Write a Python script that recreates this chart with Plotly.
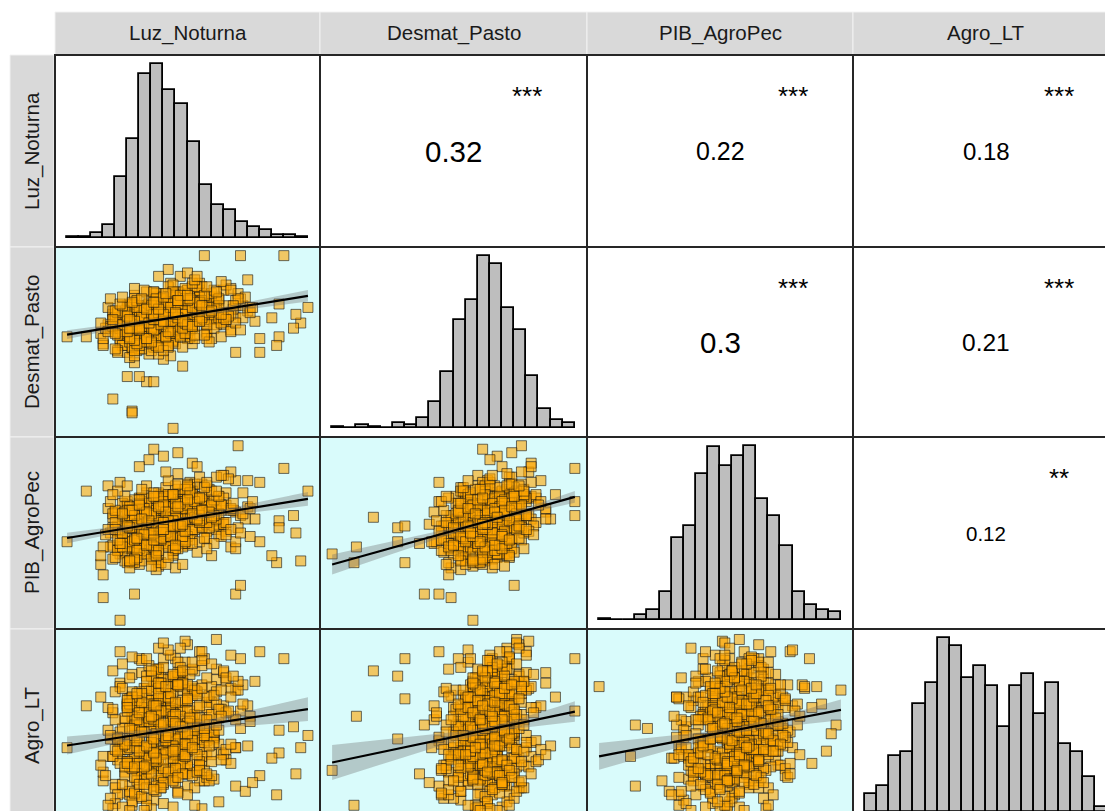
import numpy as np
import plotly.graph_objects as go

W, H = 1105, 811

variables = ["Luz_Noturna", "Desmat_Pasto", "PIB_AgroPec", "Agro_LT"]

# ---- observations (values in each variable's plotted scale, 0-100) ----
luz_noturna = [
    26,38,20,31,45,23,34,28,41,22, 30,49,25,36,19,33,42,24,29,39, 32,21,46,27,35,24,30,38,52,20,
    33,26,43,28,22,37,31,40,18,29, 47,25,35,23,28,41,32,21,37,27, 34,44,24,30,36,19,50,28,35,26,
    39,22,31,27,43,
    36,30,45,26,40,51,33,28,43,38, 24,48,35,42,29,56,36,27,46,33, 39,23,50,37,31,44,34,26,53,41,
    32,47,28,38,58,35,25,45,40,30, 42,34,49,27,37,46,31,54,36,29, 44,39,22,48,33,37,28,52,41,35,
    31,47,38,25,43,34,62,40,32,45, 36,27,50,39,33,42,30,47,37,26, 48,35,41,31,39,
    42,50,35,53,44,31,58,41,37,48, 46,38,61,33,43,54,40,29,56,47, 36,49,42,65,34,45,39,52,44,27,
    55,40,48,32,59,43,35,50,41,70, 38,53,46,30,57,42,49,34,63,39, 51,44,36,55,40,28,60,45,37,52,
    41,33,48,57,43,25,50,39,66,46, 35,53,42,47,31,58,44,38,51,45, 40,56,43,34,49,
    47,58,41,53,66,44,51,61,38,49, 55,45,70,50,42,59,52,36,63,48, 56,43,51,73,46,54,40,64,49,57,
    45,53,68,41,50,60,38,55,47,75, 52,43,59,46,54,65,39,50,57,44, 53,62,42,48,56,69,45,51,58,33,
    50,55,46,61,43,
    44,27,27,19,33,36,30,25,48,28, 15,22,0,8,17,15,14,21,100,97, 94,95,90,88,87,88,85,80,80,72,
    57,70,72,75,71,78,65,68,62,76, 36,40,34,46,52,30,42,50,38,35, 44,
    24,35,17,29,42,21,31,26,38,19, 28,46,22,33,15,30,40,23,27,36, 31,18,44,25,33,20,28,37,50,16,
    30,24,41,26,19,35,29,39,14,27, 45,23,32,20,26,38,30,18,34,25, 32,43,21,28,35,17,48,26,33,23,
    37,20,29,25,41,
    43,53,34,57,45,29,62,42,36,50, 47,37,66,31,44,58,40,27,60,48, 35,51,43,70,32,46,38,55,45,25,
    58,39,49,30,63,44,33,52,41,74, 37,56,47,28,61,42,50,33,68,39, 53,45,35,59,40,26,64,46,36,54,
    41,31,49,61,44,
    35,27,46,24,39,53,31,26,44,37, 21,50,34,42,28,58,35,25,47,32, 38,20,52,36,29,45,33,23,56,41,
    30,48,26,37,60,34,22,45,39,28, 42,32,50,25,36,47,29,55,35,27, 44,38,19,49,31,36,26,54,40,33,
    30,46,37,23,43,
    52,64,44,58,73,48,56,68,40,54, 61,49,60,55,45,65,57,38,70,52, 62,46,56,66,50,60,42,71,53,63,
    49,58,76,44,55,67,40,61,51,64, 57,46,66,50,59,72,41,54,63,47, 58,69,45,52,62,77,48,56,64,36,
    55,60,50,68,46,
]

desmat_pasto = [
    53,60,56,65,49, 61,57,55,71,50,62,59,44,53,63, 57,60,48,68,56,52,64,58,46,61,
    54,69,58,49,66,56,62,42,60,52, 72,53,63,58,45,61,54,67,48,57, 51,65,59,53,62,43,70,55,60,47,
    66,52,61,57,50,68,58,46,64,55,
    61,54,64,58,66, 62,55,75,59,67,57,63,68,52,61, 64,58,70,62,54,78,59,66,57,63,
    69,50,60,67,53,63,58,72,65,56, 61,71,57,64,46,66,62,55,68,60, 65,56,73,59,64,51,69,61,54,67,
    58,77,59,65,56,71,62,48,66,57, 63,70,52,61,74,55,65,58,68,50, 61,66,56,60,72,64,53,67,57,62,
    64,70,60,66,75, 67,62,71,64,68,59,74,65,63,70, 72,67,61,78,64,69,56,71,62,66,
    74,63,70,67,57,76,64,68,60,72, 66,62,80,69,64,73,59,68,71,63, 66,70,61,74,67,53,65,72,62,69,
    71,63,67,76,58,70,66,60,73,64, 69,55,71,63,68,59,77,66,70,62, 72,64,68,57,75,63,69,61,71,66,
    88,69,75,67,71, 74,77,63,70,72,80,66,71,75,68, 73,62,79,67,74,70,84,65,71,76,
    69,74,64,78,70,73,66,81,75,67, 72,63,76,70,86,74,65,68,79,73, 60,75,67,71,78,64,70,82,66,74,
    69,77,62,71,67,80,73,65,75,70,
    0,10,9,17,27,27,30,30,36,38, 49,58,53,53,60,48,55,45,70,61, 58,66,100,53,48,72,64,44,52,100,
    100,44,75,68,78,62,80,57,74,70, 62,68,65,74,82,70,92,90,88,64, 70,
    56,45,70,58,51, 44,55,41,52,68, 58,69,62,59,52, 51,40,56,47,71, 62,59,50,70,61, 64,42,63,73,58,
    48,56,53,
    66,59,49,62,67, 61,72,63,60,50, 46,53,43,65,75, 61,64,68,58,54, 45,66,56,47,57, 52,60,48,55,62,
    67,61,
    61,52,74,63,55, 49,60,47,57,73, 62,72,67,63,57, 55,45,60,52,75, 67,63,55,74,65, 69,47,66,77,62,
    52,61,58,
    70,64,56,67,71, 66,76,68,65,54, 51,58,48,69,79, 66,68,73,62,58, 50,70,61,53,62, 57,64,53,59,68,
    71,65,
    66,57,79,68,60, 54,65,52,62,78, 67,77,72,68,62, 60,50,65,57,80, 72,68,60,79,70, 74,52,71,82,67,
    57,66,63,
    75,69,61,72,76, 71,81,73,70,59, 56,63,53,74,84, 71,73,78,67,63, 55,75,66,58,67, 62,69,58,64,73,
    76,70,
    70,61,83,72,64, 58,69,56,66,82, 71,81,76,72,66, 64,54,69,61,84, 76,72,64,83,74, 78,56,75,86,71,
    61,70,67,
    79,73,65,76,80, 75,85,77,74,63, 60,67,57,78,88, 75,77,82,71,67, 59,79,70,62,71, 66,73,62,68,77,
    80,74,
]

pib_agropec = [
    45,33,62,48,30,55,66,36,44,38,32,46,68,35,43,48,52,41,64,56,51,40,67,54,50,39,70,31,51,62,53,58,44,
    56,51,39,58,47,42,50,53,61,52,57,41,49,59,54,29,63,45,37,34,59,46,35,43,60,48,44,55,42,47,36,49,
    52,41,66,54,43, 49,38,53,45,62, 65,54,36,51,47, 53,44,56,60,73, 46,67,59,63,34, 61,55,47,52,64,
    51,48,60,66,58, 56,45,60,48,39, 54,58,51,
    61,56,46,68,57, 63,58,71,55,50, 42,60,57,69,59, 62,64,40,48,54, 57,51,42,52,56, 49,70,58,41,57,
    72,55,44,53,50, 63,53,69,57,61, 46,65,
    57,48,70,61,66, 59,51,54,47,68, 50,73,59,67,64, 69,60,65,78,62, 54,59,49,56,53, 60,68,65,59,55,
    66,62,73,64,75, 55,47,68,63,80, 62,67,60,
    65,60,52,44,56, 71,63,76,60,57, 62,55,42,57,53, 55,46,58,52,57, 66,72,62,74,63, 51,57,43,70,62,
    54,50,58,52,57, 65,60,57,54,59, 51,57,
    62,55,76,65,73, 59,61,57,64,72, 60,54,62,61,51, 63,74,60,55,62, 66,70,79,73,65, 61,56,63,58,62,
    64,71,85,
    71,66,58,52,63, 68,80,69,48,65, 75,66,83,70,67, 56,65,78,68,71, 59,53,63,57,76, 68,77,70,82,66,
    57,62,
    38,42,33,59,53,45,54,33,44,15, 13,0,45,74,77,26,32,40,74,34, 60,50,87,57,33,53,37,79,45,60,
    68,15,20,65,100,58,70,42,82,48, 98,94,92,96,90,88,72,58,64,50, 58,
    47,54,64,39,58, 51,70,45,56,61,33,48,79,53,42, 67,55,46,60,38,75,50,43,66,56,
    36,62,40,72,49,44,71,57,30,53, 60,47,66,37,54,77,44,50,63,34, 57,41,68,48,58,38,55,74,46,61,
    52,32,65,53,42,70,56,36,63,50,
    62,58,46,69,53, 40,63,56,48,78,61,43,66,52,59, 47,68,57,37,64,50,74,55,41,62,
    58,71,45,60,53,67,33,56,64,49, 72,44,52,65,58,38,69,47,61,54, 42,76,50,63,46,70,59,35,53,66,
    60,48,55,73,39,62,51,68,44,57,
    49,53,41,62,47, 59,52,63,40,54,46,66,50,57,35, 56,43,77,48,61,38,52,44,71,55,
    41,62,50,58,32,69,46,53,39,65, 57,44,64,51,60,36,49,75,54,42, 67,47,56,31,63,53,40,72,45,58,
    50,34,70,52,43,66,55,37,61,48,
    70,66,54,77,61, 48,71,64,56,88,69,51,74,60,67, 55,76,65,45,72,58,84,63,49,70,
    66,80,53,68,61,75,41,64,72,57, 81,52,60,73,66,47,78,56,69,62, 50,85,58,71,54,79,67,43,61,74,
    68,55,63,83,46,70,59,77,52,65,
]

agro_lt = [
    29,38,16,47,31, 11,36,49,20,33,66,25,41,7,57, 34,62,23,40,18,56,30,75,27,43,
    21,44,31,67,14,37,26,53,10,46, 64,33,5,42,24,58,29,17,39,50, 70,25,41,12,30,55,19,36,48,27,
    32,15,45,28,60,22,38,8,52,35,
    56,34,62,43,88, 30,60,41,77,26,52,37,66,45,20, 44,25,58,39,67,14,48,35,73,53,
    50,37,65,23,47,71,32,54,18,63, 27,61,45,16,69,34,56,42,79,29, 12,49,68,30,43,59,21,74,38,52,
    72,31,53,41,64,24,46,82,36,57, 33,76,44,19,55,38,66,26,49,8, 40,62,28,51,15,70,35,47,22,58,
    37,66,49,81,45, 57,34,68,48,76,30,63,42,71,54, 43,65,28,73,52,39,86,46,61,23,
    74,35,55,41,69,26,58,79,32,50, 29,70,44,64,37,82,51,24,60,47, 67,22,54,39,77,48,33,62,18,57,
    38,63,25,52,71,46,31,59,88,42, 61,27,49,75,34,56,14,68,43,80, 45,72,30,58,20,66,40,53,84,36,
    74,41,66,56,30, 57,79,43,65,51,92,37,70,49,61, 67,39,75,54,31,84,60,46,73,35,
    48,76,34,63,53,88,42,71,58,22, 72,52,36,80,61,45,90,56,27,69, 33,74,58,18,68,47,82,40,64,29,
    55,78,38,66,25,70,50,86,44,62,
    24,55,4,81,78,42,88,65,22,50, 32,72,37,61,60,18,66,10,44,37, 49,22,88,34,10,47,31,92,21,58,
    40,15,48,38,70,75,80,28,62,55, 50,35,62,45,72,28,66,38,80,2, 3,
    54,39,47,18,34, 43,60,37,52,32, 20,72,28,4,23, 50,17,38,25,15, 68,44,55,29,19, 5,61,45,10,21,
    13,26,
    25,10,2,30,64, 14,27,6,21,3, 46,36,12,57,42, 8,31,62,1,47, 35,11,22,4,50, 41,27,16,33,53,
    37,58,43,
    64,49,57,24,42, 53,69,46,61,40, 27,82,36,9,31, 60,25,47,33,22, 78,52,65,37,26, 11,71,54,17,28,
    20,33,
    32,16,6,38,75, 21,34,12,29,2, 55,44,19,66,51, 14,39,72,4,56, 43,18,30,1,59, 50,35,23,41,63,
    45,67,52,
    81,66,75,39,58, 70,87,62,78,56, 42,96,52,23,47, 77,40,64,49,37, 94,69,82,53,41, 25,88,71,32,43,
    35,49,
    48,31,21,54,92, 36,50,26,44,16, 73,60,34,83,68, 29,55,89,18,74, 59,33,46,13,77, 67,51,38,57,80,
    61,85,68,
    86,70,79,43,62, 74,92,66,83,60, 46,98,56,27,51, 81,44,68,53,41, 99,73,87,57,45, 29,93,75,36,47,
    39,53,
    52,35,24,58,97, 40,54,30,48,20, 77,64,38,88,72, 33,59,94,22,78, 63,37,50,17,81, 71,55,42,61,85,
    65,90,73,
]

# ---- histogram bar heights (20 equal bins over each variable's range) ----
hist_luz_noturna = [1, 1, 3, 8, 37, 60, 99, 105, 89, 81, 58, 32, 20, 17, 10, 7, 5, 2, 2, 1]
hist_desmat_pasto = [1, 0, 2, 1, 0, 3, 2, 6, 16, 34, 66, 78, 105, 100, 73, 60, 32, 12, 5, 3]
hist_pib_agropec = [1, 0, 0, 3, 6, 17, 49, 56, 87, 103, 92, 98, 104, 72, 62, 44, 17, 9, 6, 5]
hist_agro_lt = [11, 16, 34, 36, 65, 78, 105, 100, 81, 88, 76, 51, 76, 83, 59, 78, 41, 36, 21, 3]

# ---- correlation panel texts, upper triangle (row, col) ----
corr_pairs = [(0, 1), (0, 2), (0, 3), (1, 2), (1, 3), (2, 3)]
corr_labels = ["0.32", "0.22", "0.18", "0.3", "0.21", "0.12"]
corr_stars = ["***", "***", "***", "***", "***", "**"]
corr_font_size = {"0.32": 29.5, "0.22": 25, "0.18": 24, "0.3": 29.5, "0.21": 24.5, "0.12": 20.5}

data = [luz_noturna, desmat_pasto, pib_agropec, agro_lt]
hists = [hist_luz_noturna, hist_desmat_pasto, hist_pib_agropec, hist_agro_lt]
assert len(set(len(d) for d in data)) == 1, [len(d) for d in data]

# ---- layout geometry (pixels) ----
VAR_LO, VAR_HI = -5.0, 105.0
cols_px = [(55, 320), (320, 587), (587, 853), (853, 1119)]
rows_px = [(55, 247), (247, 437), (437, 629), (629, 821)]
STRIP_TOP = (12, 55)
STRIP_LEFT = (10, 54)

FONT = "Liberation Sans, Arial, Helvetica, sans-serif"
BAR_FILL = "#BEBEBE"
LOWER_BG = "#D9FBFB"
BORDER = "#262626"
STRIP_BG = "#D9D9D9"


def fx(x):
    return x / W


def fy(y):
    return 1 - y / H


def fit_line(x, y):
    x = np.asarray(x, float)
    y = np.asarray(y, float)
    n = len(x)
    b, a = np.polyfit(x, y, 1)
    xs = np.linspace(x.min(), x.max(), 80)
    yh = a + b * xs
    resid = y - (a + b * x)
    s = np.sqrt(np.sum(resid ** 2) / (n - 2))
    sxx = np.sum((x - x.mean()) ** 2)
    se = s * np.sqrt(1.0 / n + (xs - x.mean()) ** 2 / sxx)
    t = 1.964
    return xs, yh, yh - t * se, yh + t * se


fig = go.Figure()
axes = {}
shapes = []
annotations = []

for i in range(4):
    for j in range(4):
        k = i * 4 + j + 1
        sfx = "" if k == 1 else str(k)
        x0, x1 = cols_px[j]
        y0, y1 = rows_px[i]
        xv1 = min(x1, W)
        yv1 = min(y1, H)
        if i == j:
            M = max(hists[i])
            ylo, yhi = -0.05 * M, 1.05 * M
        else:
            ylo, yhi = VAR_LO, VAR_HI
        xlo, xhi = VAR_LO, VAR_HI
        xr = [xlo, xlo + (xhi - xlo) * (xv1 - x0) / (x1 - x0)]
        yr = [yhi - (yhi - ylo) * (yv1 - y0) / (y1 - y0), yhi]
        common = dict(showgrid=False, zeroline=False, showticklabels=False, ticks="",
                      showline=False, fixedrange=True)
        axes["xaxis" + sfx] = dict(domain=[fx(x0), fx(xv1)], range=xr, anchor="y" + sfx, **common)
        axes["yaxis" + sfx] = dict(domain=[fy(yv1), fy(y0)], range=yr, anchor="x" + sfx, **common)
        xa, ya = "x" + sfx, "y" + sfx

        if i > j:
            shapes.append(dict(type="rect", xref="paper", yref="paper", x0=fx(x0), x1=fx(x1),
                               y0=fy(y1), y1=fy(y0), fillcolor=LOWER_BG, line=dict(width=0),
                               layer="below"))
            xd, yd = data[j], data[i]
            fig.add_trace(go.Scatter(
                x=xd, y=yd, mode="markers", xaxis=xa, yaxis=ya, hoverinfo="skip",
                marker=dict(symbol="square", size=10, color="rgba(255,165,0,0.6)",
                            line=dict(color="rgba(20,20,20,0.6)", width=1))))
            xs, yh, lo, hi = fit_line(xd, yd)
            fig.add_trace(go.Scatter(
                x=np.concatenate([xs, xs[::-1]]), y=np.concatenate([hi, lo[::-1]]),
                mode="lines", fill="toself", fillcolor="rgba(110,110,110,0.35)",
                line=dict(width=0), xaxis=xa, yaxis=ya, hoverinfo="skip"))
            fig.add_trace(go.Scatter(x=xs, y=yh, mode="lines", xaxis=xa, yaxis=ya,
                                     line=dict(color="black", width=2.2), hoverinfo="skip"))
        elif i == j:
            counts = hists[i]
            nb = len(counts)
            bw = 100.0 / nb
            centers = [bw * (b + 0.5) for b in range(nb)]
            fig.add_trace(go.Bar(x=centers, y=counts, width=bw, xaxis=xa, yaxis=ya,
                                 marker=dict(color=BAR_FILL, line=dict(color="black", width=1.8)),
                                 hoverinfo="skip"))
        else:
            idx = corr_pairs.index((i, j))
            lab = corr_labels[idx]
            annotations.append(dict(
                x=fx((x0 + x1) / 2), y=fy((y0 + y1) / 2), xref="paper", yref="paper",
                text=lab, showarrow=False, xanchor="center", yanchor="middle",
                font=dict(family=FONT, size=corr_font_size[lab], color="black")))
            annotations.append(dict(
                x=fx(x0 + 0.775 * (x1 - x0)), y=fy(y0 + 0.215 * (y1 - y0)),
                xref="paper", yref="paper", text=corr_stars[idx], showarrow=False,
                xanchor="center", yanchor="middle",
                font=dict(family=FONT, size=26, color="black")))

        shapes.append(dict(type="rect", xref="paper", yref="paper", x0=fx(x0), x1=fx(x1),
                           y0=fy(y1), y1=fy(y0), line=dict(color=BORDER, width=2),
                           fillcolor="rgba(0,0,0,0)", layer="above"))

# strips
for j, name in enumerate(variables):
    x0, x1 = cols_px[j]
    shapes.append(dict(type="rect", xref="paper", yref="paper", x0=fx(x0), x1=fx(x1),
                       y0=fy(STRIP_TOP[1]), y1=fy(STRIP_TOP[0]), fillcolor=STRIP_BG,
                       line=dict(color="#F2F2F2", width=1), layer="below"))
    annotations.append(dict(x=fx((x0 + x1) / 2), y=fy(sum(STRIP_TOP) / 2), xref="paper",
                            yref="paper", text=name, showarrow=False, xanchor="center",
                            yanchor="middle", font=dict(family=FONT, size=20.5, color="#1A1A1A")))
for i, name in enumerate(variables):
    y0, y1 = rows_px[i]
    shapes.append(dict(type="rect", xref="paper", yref="paper", x0=fx(STRIP_LEFT[0]),
                       x1=fx(STRIP_LEFT[1]), y0=fy(y1), y1=fy(y0), fillcolor=STRIP_BG,
                       line=dict(color="#F2F2F2", width=1), layer="below"))
    annotations.append(dict(x=fx(sum(STRIP_LEFT) / 2), y=fy((y0 + y1) / 2), xref="paper",
                            yref="paper", text=name, showarrow=False, textangle=-90,
                            xanchor="center", yanchor="middle",
                            font=dict(family=FONT, size=20.5, color="#1A1A1A")))

fig.update_layout(
    width=W, height=H, margin=dict(l=0, r=0, t=0, b=0),
    paper_bgcolor="white", plot_bgcolor="rgba(0,0,0,0)",
    showlegend=False, bargap=0, shapes=shapes, annotations=annotations, **axes)

fig.write_html("out.html", config={"displayModeBar": False},
               post_script="document.body.style.margin='0px';document.body.style.overflow='hidden';")
